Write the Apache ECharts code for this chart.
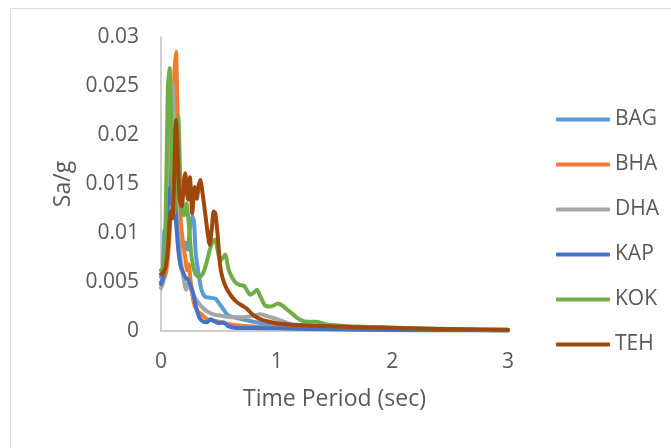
<!DOCTYPE html>
<html style="height: 100%">
<head>
  <meta charset="utf-8">
</head>
<body style="height: 100%; margin: 0; background: #fff">
  <div id="container" style="width: 671px; height: 448px"></div>

  <script type="text/javascript" src="https://cdn.jsdelivr.net/npm/echarts@6/dist/echarts.min.js"></script>
  <script>
// [period (sec), Sa/g]
const BAG = [[0,0.0055],[0.015,0.006],[0.03,0.0103],[0.045,0.0095],[0.06,0.0125],[0.075,0.0145],[0.09,0.012],[0.11,0.0135],[0.13,0.011],[0.15,0.0095],[0.17,0.0088],[0.19,0.0085],[0.21,0.009],[0.23,0.0083],[0.25,0.0105],[0.27,0.0117],[0.285,0.0112],[0.3,0.008],[0.32,0.0062],[0.35,0.0042],[0.38,0.0035],[0.42,0.0034],[0.47,0.0033],[0.51,0.0027],[0.54,0.0022],[0.58,0.0016],[0.63,0.0014],[0.7,0.0012],[0.8,0.00095],[0.9,0.0007],[1.0,0.0006],[1.2,0.00042],[1.5,0.0003],[2,0.0002],[2.5,0.00013],[3,0.0001]];
const BHA = [[0,0.005],[0.02,0.0052],[0.04,0.0058],[0.06,0.0075],[0.08,0.011],[0.1,0.018],[0.115,0.026],[0.13,0.0285],[0.14,0.024],[0.155,0.0165],[0.17,0.0115],[0.19,0.009],[0.21,0.0075],[0.225,0.0062],[0.24,0.0068],[0.255,0.0052],[0.27,0.0038],[0.29,0.0026],[0.32,0.002],[0.36,0.0016],[0.4,0.0012],[0.48,0.001],[0.55,0.0008],[0.65,0.0006],[0.8,0.00045],[1,0.00035],[1.3,0.00025],[1.6,0.0002],[2,0.00012],[2.3,0.0001],[2.6,0.0001],[3,0.00008]];
const DHA = [[0,0.0044],[0.02,0.005],[0.04,0.009],[0.055,0.013],[0.07,0.018],[0.085,0.0235],[0.1,0.0253],[0.11,0.022],[0.12,0.016],[0.14,0.011],[0.16,0.0085],[0.18,0.0065],[0.2,0.005],[0.215,0.0042],[0.23,0.0048],[0.25,0.0045],[0.28,0.0036],[0.31,0.0031],[0.35,0.0025],[0.4,0.002],[0.45,0.0017],[0.5,0.0016],[0.6,0.0014],[0.7,0.0014],[0.78,0.0015],[0.86,0.0017],[0.92,0.0015],[0.98,0.0013],[1.05,0.001],[1.12,0.0007],[1.2,0.00045],[1.4,0.0003],[1.7,0.00022],[2,0.00016],[2.5,0.00012],[3,0.0001]];
const KAP = [[0,0.0048],[0.02,0.0055],[0.035,0.008],[0.05,0.0115],[0.065,0.0145],[0.08,0.013],[0.095,0.017],[0.11,0.0205],[0.12,0.014],[0.135,0.0105],[0.15,0.0082],[0.17,0.0066],[0.19,0.006],[0.21,0.0055],[0.235,0.0052],[0.26,0.0045],[0.28,0.0038],[0.3,0.0026],[0.33,0.0014],[0.36,0.001],[0.4,0.0009],[0.43,0.0012],[0.46,0.001],[0.5,0.0008],[0.54,0.0009],[0.58,0.0005],[0.65,0.0003],[0.8,0.0003],[1,0.00028],[1.3,0.0002],[1.6,0.00015],[2,0.0001],[2.5,0.00008],[3,0.00006]];
const KOK = [[0,0.0062],[0.02,0.0065],[0.035,0.009],[0.05,0.018],[0.06,0.025],[0.075,0.0268],[0.09,0.02],[0.1,0.014],[0.115,0.012],[0.135,0.018],[0.15,0.0219],[0.165,0.016],[0.18,0.012],[0.2,0.0118],[0.22,0.013],[0.24,0.011],[0.26,0.008],[0.28,0.0065],[0.3,0.0058],[0.33,0.0055],[0.36,0.0058],[0.39,0.0068],[0.42,0.0082],[0.45,0.0092],[0.47,0.0093],[0.49,0.0082],[0.51,0.0072],[0.53,0.0074],[0.555,0.0078],[0.58,0.0065],[0.6,0.0058],[0.64,0.005],[0.68,0.0047],[0.72,0.0046],[0.77,0.0037],[0.8,0.0039],[0.83,0.0042],[0.86,0.0035],[0.9,0.0026],[0.95,0.0025],[1.01,0.0028],[1.06,0.0025],[1.11,0.002],[1.17,0.0014],[1.23,0.001],[1.3,0.00095],[1.35,0.00095],[1.42,0.0007],[1.5,0.0006],[1.7,0.00045],[1.9,0.0004],[2.1,0.0003],[2.5,0.0002],[3,0.00012]];
const TEH = [[0,0.0058],[0.02,0.006],[0.04,0.0065],[0.06,0.0085],[0.075,0.0112],[0.09,0.0123],[0.1,0.0115],[0.115,0.016],[0.13,0.0215],[0.145,0.018],[0.16,0.0135],[0.18,0.0127],[0.2,0.0155],[0.21,0.0161],[0.225,0.014],[0.236,0.0134],[0.25,0.0157],[0.26,0.014],[0.27,0.012],[0.29,0.0147],[0.31,0.0135],[0.325,0.0148],[0.34,0.0154],[0.36,0.014],[0.38,0.0122],[0.4,0.0103],[0.42,0.0088],[0.44,0.0105],[0.455,0.0122],[0.47,0.012],[0.49,0.0098],[0.51,0.0068],[0.53,0.0055],[0.56,0.0045],[0.6,0.0037],[0.65,0.003],[0.7,0.0026],[0.74,0.0023],[0.8,0.0016],[0.88,0.0011],[1,0.0008],[1.2,0.0006],[1.5,0.00045],[1.8,0.00035],[2.2,0.00025],[2.6,0.00018],[3,0.00013]];

const names = ['BAG', 'BHA', 'DHA', 'KAP', 'KOK', 'TEH'];
const seriesData = [BAG, BHA, DHA, KAP, KOK, TEH];
const colors = ['#5B9BD5', '#ED7D31', '#A5A5A5', '#4472C4', '#70AD47', '#9E480E'];

var dom = document.getElementById('container');
var myChart = echarts.init(dom, null, { renderer: 'canvas' });

var font = 'Open Sans';
var textColor = '#595959';

var option = {
  animation: false,
  color: colors,
  graphic: [{
    type: 'rect',
    shape: { x: 10.5, y: 8.5, width: 700, height: 500 },
    style: { fill: 'none', stroke: '#D9D9D9', lineWidth: 1 },
    silent: true
  }],
  legend: {
    orient: 'vertical',
    left: 551,
    top: 104,
    itemWidth: 54,
    itemHeight: 4,
    itemGap: 24,
    icon: 'roundRect',
    data: names,
    textStyle: { fontFamily: font, fontSize: 21, color: textColor }
  },
  grid: {
    left: 161,
    right: 163,
    top: 37,
    bottom: 117,
    containLabel: false,
    outerBoundsMode: 'none'
  },
  xAxis: {
    type: 'value',
    min: 0,
    max: 3,
    interval: 1,
    name: 'Time Period (sec)',
    nameLocation: 'middle',
    nameGap: 57,
    nameTextStyle: { fontFamily: font, fontSize: 23, color: textColor },
    axisLine: { lineStyle: { color: '#BFBFBF', width: 1.5 } },
    axisTick: { show: false },
    splitLine: { show: false },
    axisLabel: { margin: 21, fontFamily: font, fontSize: 21, color: textColor }
  },
  yAxis: {
    type: 'value',
    min: 0,
    max: 0.03,
    interval: 0.005,
    name: 'Sa/g',
    nameLocation: 'middle',
    nameGap: 86,
    nameTextStyle: { fontFamily: font, fontSize: 23, color: textColor },
    axisLine: { show: true, lineStyle: { color: '#BFBFBF', width: 1.5 } },
    axisTick: { show: false },
    splitLine: { show: false },
    axisLabel: {
      margin: 22,
      fontFamily: font,
      fontSize: 21,
      color: textColor,
      formatter: function (v) { return String(+v.toFixed(3)); }
    }
  },
  series: names.map(function (n, i) {
    return {
      name: n,
      type: 'line',
      data: seriesData[i],
      showSymbol: false,
      symbol: 'none',
      smooth: 0.2,
      lineStyle: { width: 4, color: colors[i], cap: 'round', join: 'round' },
      itemStyle: { color: colors[i] }
    };
  })
};

myChart.setOption(option);
window.addEventListener('resize', myChart.resize);
  </script>
</body>
</html>
